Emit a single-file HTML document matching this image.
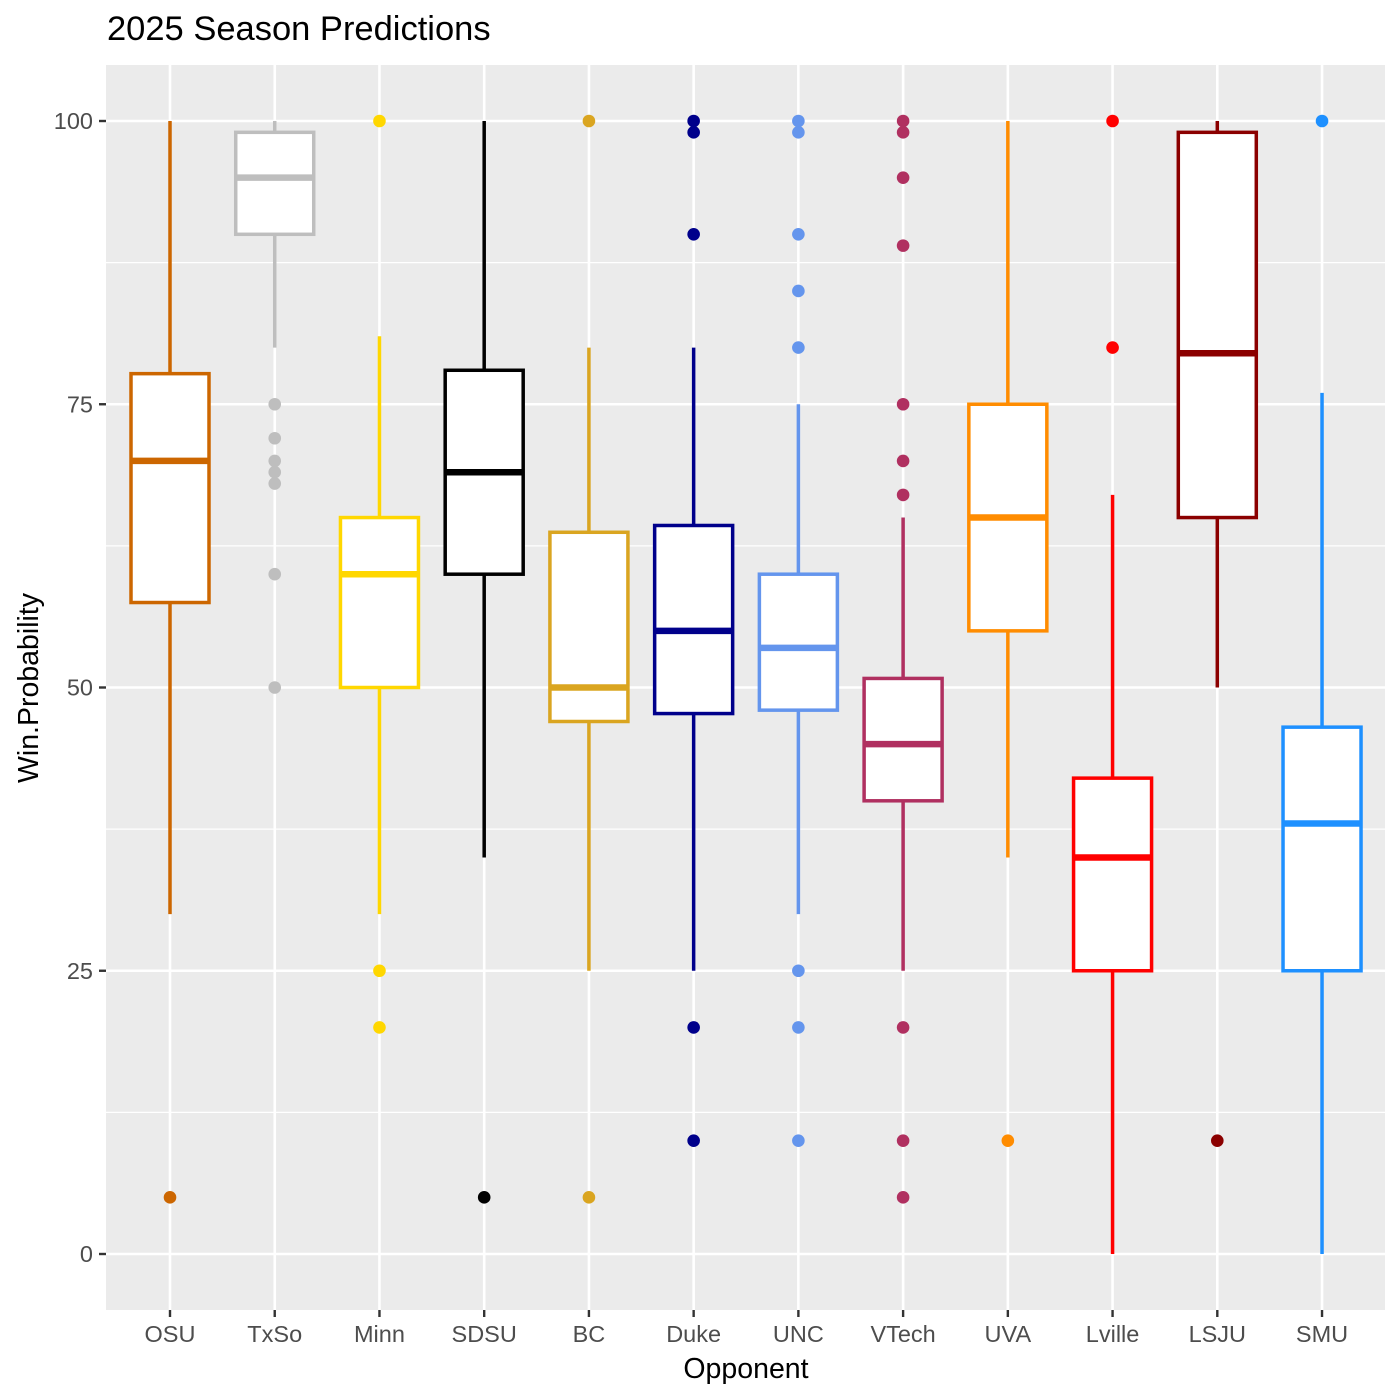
<!DOCTYPE html>
<html><head><meta charset="utf-8"><style>
body{margin:0;background:#fff}
svg{display:block;font-family:"Liberation Sans",sans-serif}
</style></head><body>
<svg id="chart" width="1400" height="1400">
<text x="107" y="40" font-size="34.5" fill="#000">2025 Season Predictions</text>
<rect x="106" y="65" width="1279" height="1245" fill="#ebebeb"/>
<g id="grid"></g><g id="boxes"></g><g id="axes"></g>
<text x="746" y="1378" font-size="28.5" text-anchor="middle" fill="#000">Opponent</text>
<text transform="translate(38,688) rotate(-90)" font-size="28.5" text-anchor="middle" fill="#000">Win.Probability</text>
</svg>
<script>
const teams=["OSU","TxSo","Minn","SDSU","BC","Duke","UNC","VTech","UVA","Lville","LSJU","SMU"];
const colors=["#cc6600","#bebebe","#ffd700","#000000","#daa520","#00008b","#6495ed","#b03060","#ff8c00","#ff0000","#8b0000","#1e90ff"];
const whiskerLow=[30,80,30,35,25,25,30,25,35,0,50,0];
const q1=[57.5,90,50,60,47,47.7,48,40,55,25,65,25];
const median=[70,95,60,69,50,55,53.5,45,65,35,79.5,38];
const q3=[77.7,99,65,78,63.7,64.3,60,50.8,75,42,99,46.5];
const whiskerHigh=[100,100,81,100,80,80,75,65,100,67,100,76];
const outliers=[[5],[75,72,70,69,68,60,50],[100,25,20],[5],[100,5],[100,99,90,20,10],[100,99,90,85,80,25,20,10],[100,99,95,89,75,70,67,20,10,5],[10],[100,80],[10],[100]];
const yTicks=[0,25,50,75,100];
const NS="http://www.w3.org/2000/svg";
const y=v=>1254-v*11.33;
const x=i=>170+i*104.73;
function mk(p,t,a){const e=document.createElementNS(NS,t);for(const k in a)e.setAttribute(k,a[k]);p.appendChild(e);return e;}
const grid=document.getElementById('grid'),boxes=document.getElementById('boxes'),axes=document.getElementById('axes');
[12.5,37.5,62.5,87.5].forEach(v=>{const l=mk(grid,'line',{x1:106,x2:1385,y1:y(v),y2:y(v),stroke:'#fff','stroke-width':1.2});

});
yTicks.forEach(v=>{const l=mk(grid,'line',{x1:106,x2:1385,y1:y(v),y2:y(v),stroke:'#fff','stroke-width':2.6});


const t=mk(axes,'line',{x1:99,x2:106,y1:y(v),y2:y(v),stroke:'#333','stroke-width':2.4});


const tx=mk(axes,'text',{x:93,y:y(v)+8,'font-size':23.5,'text-anchor':'end',fill:'#4d4d4d'});tx.textContent=v;

});
teams.forEach((n,i)=>{const cx=x(i),c=colors[i];
const g=mk(grid,'line',{x1:cx,x2:cx,y1:65,y2:1310,stroke:'#fff','stroke-width':2.6});


const t=mk(axes,'line',{x1:cx,x2:cx,y1:1310,y2:1317,stroke:'#333','stroke-width':2.4});


const tx=mk(axes,'text',{x:cx,y:1342,'font-size':23.5,'text-anchor':'middle',fill:'#4d4d4d'});tx.textContent=n;


const grp=mk(boxes,'g',{});


mk(grp,'line',{x1:cx,x2:cx,y1:y(whiskerHigh[i]),y2:y(q3[i]),stroke:c,'stroke-width':3.5});
mk(grp,'line',{x1:cx,x2:cx,y1:y(q1[i]),y2:y(whiskerLow[i]),stroke:c,'stroke-width':3.5});
mk(grp,'rect',{x:cx-39,y:y(q3[i]),width:78,height:y(q1[i])-y(q3[i]),fill:'#fff',stroke:c,'stroke-width':3.5});
mk(grp,'line',{x1:cx-39,x2:cx+39,y1:y(median[i]),y2:y(median[i]),stroke:c,'stroke-width':6.5});
outliers[i].forEach(v=>{const p=mk(grp,'circle',{cx:cx,cy:y(v),r:6.3,fill:c});

});
});
</script>
</body></html>
